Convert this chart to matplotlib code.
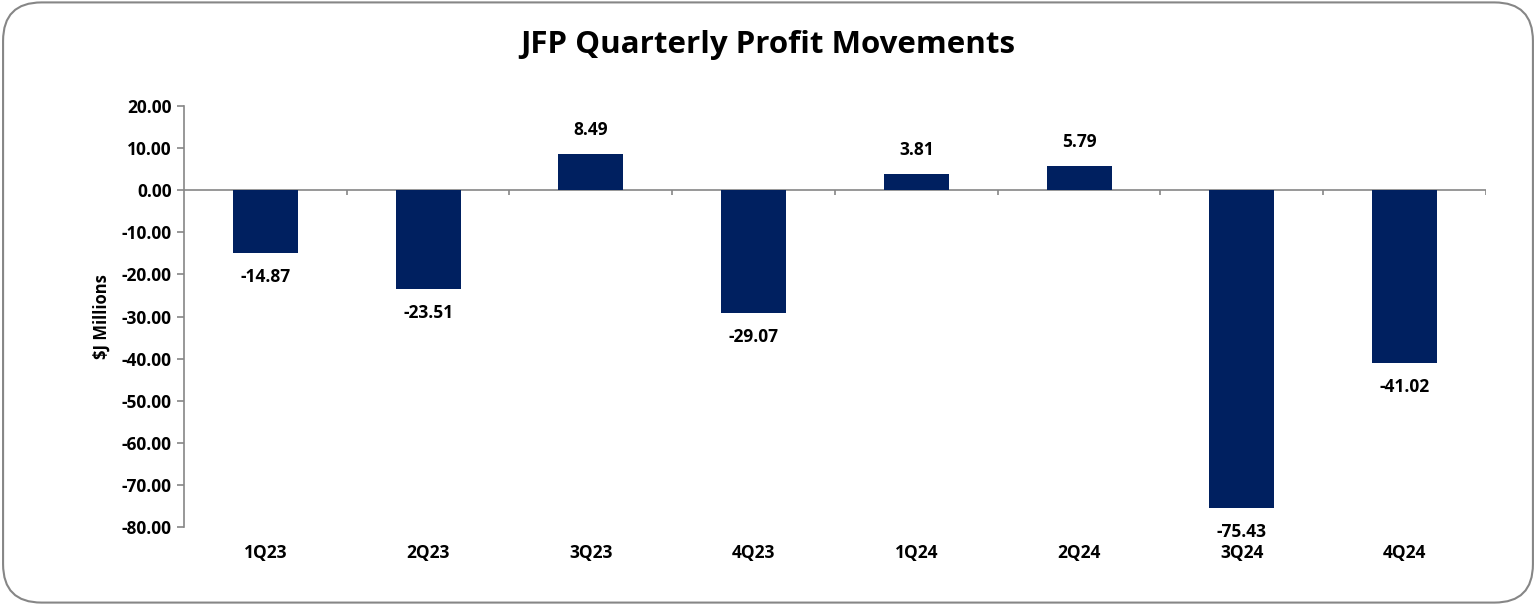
import matplotlib
matplotlib.use('Agg')
import matplotlib.pyplot as plt
from matplotlib.patches import FancyBboxPatch
import numpy as np

quarters = ['1Q23', '2Q23', '3Q23', '4Q23', '1Q24', '2Q24', '3Q24', '4Q24']
profit = [-14.87, -23.51, 8.49, -29.07, 3.81, 5.79, -75.43, -41.02]

plt.rcParams['font.family'] = ['Open Sans', 'DejaVu Sans']
plt.rcParams['font.weight'] = 'bold'

fig = plt.figure(figsize=(15.36, 6.05), dpi=100)
ax = fig.add_axes([0.1198, 0.1289, 0.8476, 0.6959])

grey = '#868686'
x = np.arange(len(quarters))
ax.bar(x, profit, width=0.4, color='#002060', zorder=3)
ax.axhline(0, color=grey, lw=1.2, zorder=2)
# little ticks between categories on the zero line
ax.vlines(np.arange(0.5, len(quarters)), -1.2, 0, color=grey, lw=1.2)

for xi, v in zip(x, profit):
    if v >= 0:
        ax.text(xi, v + 3.6, '%.2f' % v, ha='center', va='bottom', fontsize=12.5, fontweight='bold')
    else:
        ax.text(xi, v - 3.6, '%.2f' % v, ha='center', va='top', fontsize=12.5, fontweight='bold')

ax.set_xlim(-0.5, len(quarters) - 0.5)
ax.set_ylim(-80, 20)
ax.set_yticks(np.arange(-80, 21, 10))
ax.set_yticklabels(['%.2f' % t for t in np.arange(-80, 21, 10)], fontsize=12.5, fontweight='bold')
ax.set_xticks(x)
ax.set_xticklabels(quarters, fontsize=12.5, fontweight='bold')
ax.tick_params(axis='x', length=0, pad=12)
ax.tick_params(axis='y', length=5, color=grey, width=1.2, pad=4)
for s in ['top', 'right', 'bottom']:
    ax.spines[s].set_visible(False)
ax.spines['left'].set_color(grey)
ax.spines['left'].set_linewidth(1.2)
ax.set_ylabel('$J Millions', fontsize=12, fontweight='bold', labelpad=8)

fig.suptitle('JFP Quarterly Profit Movements', fontsize=22.5, fontweight='bold', y=0.95)

border = FancyBboxPatch((0.002, 0.004), 0.996, 0.992, boxstyle='round,pad=0,rounding_size=0.025',
                        transform=fig.transFigure, fill=False, edgecolor=grey, lw=1.5,
                        mutation_aspect=1536 / 605)
fig.patches.append(border)

fig.savefig('out.png', dpi=100)
